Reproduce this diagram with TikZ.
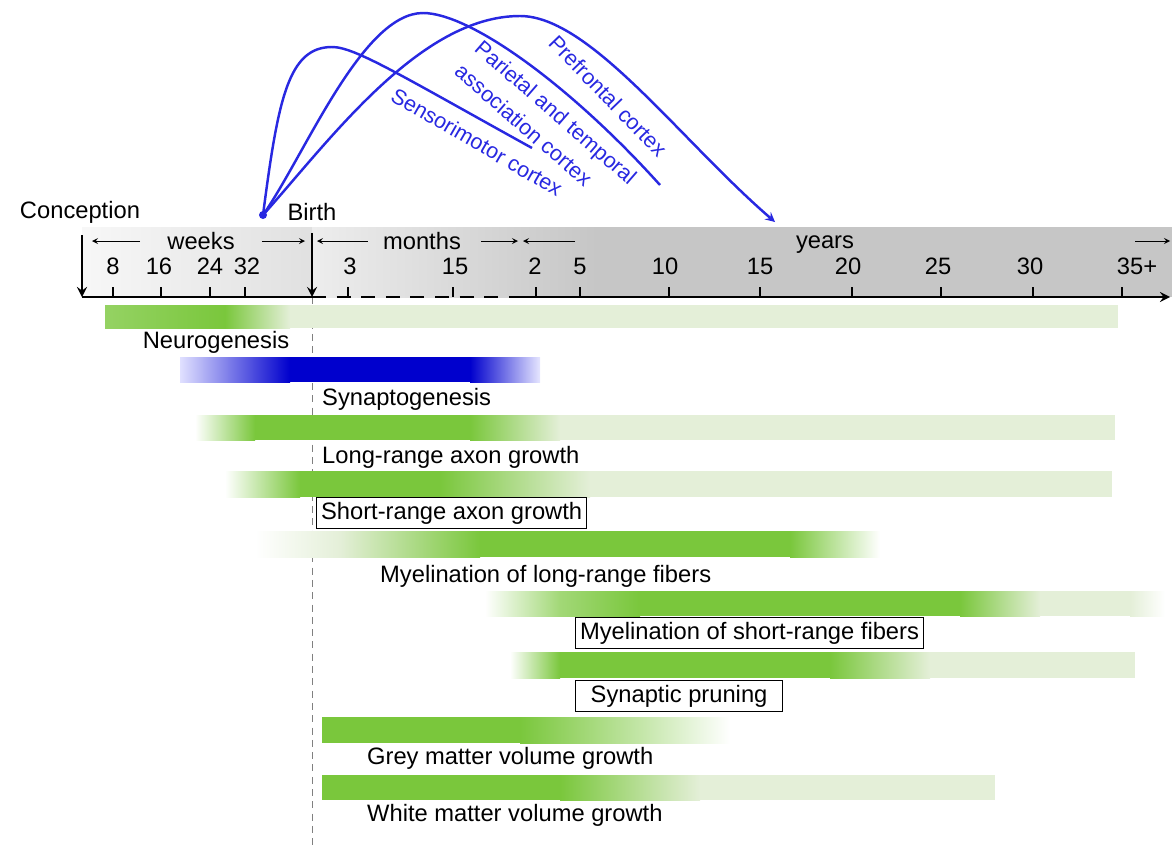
\documentclass[tikz,border=0pt]{standalone}
\usepackage{fontspec}
\setmainfont{Liberation Sans}
\usetikzlibrary{positioning}
\definecolor{leaf}{RGB}{122,199,60}
\definecolor{paleleaf}{RGB}{228,239,216}
\definecolor{deepblue}{RGB}{0,0,205}
\definecolor{cortexblue}{RGB}{40,40,225}

\begin{document}
\begin{tikzpicture}[x=0.2mm, y=-0.2mm, >=stealth, line width=0.5pt,
		every node/.style={font=\fontsize{13.5}{17}\selectfont, inner sep=1pt},
		lbl/.style={anchor=west},
		boxed/.style={draw, anchor=west, inner sep=2.5pt, line width=0.8pt},
		axis/.style={line width=1.5pt},
		curve/.style={draw=cortexblue, line width=1.4pt},
		region/.style={text=cortexblue, rotate=#1, font=\fontsize{12.3}{17.4}\selectfont}]
	\useasboundingbox (0,0) rectangle (1172,848);

	% time band
	\shade[left color=gray!6, right color=gray!24] (82,227) rectangle (312,297);
	\shade[left color=gray!14, right color=gray!45] (312,227) rectangle (600,297);
	\fill[gray!45] (600,227) rectangle (1172,297);

	\coordinate (c0) at (82,297);
	\coordinate (b0) at (312,297);
	\coordinate (m0) at (520,297);
	\coordinate (end) at (1170,297);
	\coordinate (low) at (312,848);

	\draw[dashed, gray, dash pattern=on 4pt off 3pt] (b0) -- (low);

	\node (conc) at (80,212) {Conception};
	\node (birth) at (312,212) {Birth};
	\draw[axis, ->] ([yshift=-2mm]conc.south -| c0) -- (c0);
	\draw[axis, ->] ([yshift=-2mm]birth.south -| b0) -- (b0);
	\draw[axis] (c0) -- (b0);
	\draw[axis, dash pattern=on 8pt off 6pt] (b0) -- (m0);
	\draw[axis, ->] (m0) -- (end);

	\node (weeks) at (201,241) {weeks};
	\node (months) at (422,241) {months};
	\node (years) at (825,245) {years};
	\draw[->] ([xshift=-5mm]weeks.west) -- ([xshift=2mm]c0 |- weeks.west);
	\draw[->] ([xshift=5mm]weeks.east) -- ([xshift=-1.4mm]b0 |- weeks.east);
	\draw[->] ([xshift=-2.6mm]months.west) -- ([xshift=1mm]b0 |- months.west);
	\draw[->] ([xshift=3.6mm]months.east) -- ([xshift=-0.4mm]m0 |- months.east);
	\draw[->] ([xshift=11mm]m0 |- weeks) -- ([xshift=0.6mm]m0 |- weeks);
	\draw[->] ([xshift=-7mm]end |- weeks) -- (end |- weeks);

	\foreach \x/\t in {113/8, 159/16, 210/24, 247/32, 350/3, 455/15, 535/2, 580/5,
			665/10, 760/15, 848/20, 938/25, 1030/30, 1137/35+}
		\node (n\x) at (\x,266) {\t};
	\foreach \x in {113,161,210,245,348,453,536,580,669,760,852,941,1033,1122}
		\draw[line width=1.2pt] (\x,287) -- (\x,297);

	% cortex curves
	\node[circle, fill=cortexblue, inner sep=0pt, minimum size=1.6mm] (root) at (263,215) {};
	\coordinate (sm) at (532,148);
	\coordinate (pt) at (660,185);
	\coordinate (pf) at (775,222);
	\draw[curve] (root.center) .. controls (278,100) and (288,47) .. (332,47)
		.. controls (355,47) and (400,75) .. (sm);
	\draw[curve] (root.center) .. controls (305,155) and (362,13) .. (423,13)
		.. controls (470,13) and (570,85) .. (pt);
	\draw[curve, ->] (root.center) .. controls (330,140) and (420,16) .. (520,16)
		.. controls (590,16) and (680,140) .. (pf);
	\node[region=-30] (smlab) at (477,142) {Sensorimotor cortex};
	\node[region=-41, align=left] (ptlab) at (546,124) {Parietal and temporal\\association cortex};
	\node[region=-46] (pflab) at (608,96) {Prefrontal cortex};

	% bars
	\shade[left color=leaf!80, right color=leaf] (105,305) rectangle (225,328);
	\shade[left color=leaf, right color=paleleaf] (225,305) rectangle (290,328);
	\fill[paleleaf] (290,305) rectangle (1118,328);
	\node (neuro) at (216,342) {Neurogenesis};

	\shade[left color=blue!12, right color=deepblue] (180,357) rectangle (290,382);
	\fill[deepblue] (290,357) rectangle (470,382);
	\shade[left color=deepblue, right color=blue!10] (470,357) rectangle (540,382);
	\node[lbl] (synapto) at (320,399) {Synaptogenesis};

	\shade[left color=white, right color=leaf] (195,415) rectangle (255,440);
	\fill[leaf] (255,415) rectangle (470,440);
	\shade[left color=leaf, right color=paleleaf] (470,415) rectangle (560,440);
	\fill[paleleaf] (560,415) rectangle (1115,440);
	\node[lbl] (longax) at (320,457) {Long-range axon growth};

	\shade[left color=white, right color=leaf] (225,471) rectangle (300,497);
	\fill[leaf] (300,471) rectangle (440,497);
	\shade[left color=leaf, right color=paleleaf] (440,471) rectangle (590,497);
	\fill[paleleaf] (590,471) rectangle (1112,497);
	\node[boxed] (shortax) at (316,513) {Short-range axon growth};

	\shade[left color=white, right color=paleleaf] (255,531) rectangle (340,557);
	\shade[left color=paleleaf, right color=leaf] (340,531) rectangle (480,557);
	\fill[leaf] (480,531) rectangle (790,557);
	\shade[left color=leaf, right color=white] (790,531) rectangle (880,557);
	\node[lbl] (mylong) at (378,576) {Myelination of long-range fibers};

	\shade[left color=white, right color=leaf!70] (485,591) rectangle (560,616);
	\shade[left color=leaf!70, right color=leaf] (560,591) rectangle (640,616);
	\fill[leaf] (640,591) rectangle (960,616);
	\shade[left color=leaf, right color=paleleaf] (960,591) rectangle (1040,616);
	\fill[paleleaf] (1040,591) rectangle (1130,616);
	\shade[left color=paleleaf, right color=white] (1130,591) rectangle (1165,616);
	\node[boxed] (myshort) at (575,633) {Myelination of short-range fibers};

	\shade[left color=white, right color=leaf] (510,652) rectangle (560,678);
	\fill[leaf] (560,652) rectangle (830,678);
	\shade[left color=leaf, right color=paleleaf] (830,652) rectangle (930,678);
	\fill[paleleaf] (930,652) rectangle (1135,678);
	\node[boxed, inner xsep=3mm] (prune) at (575,696) {Synaptic pruning};

	\fill[leaf] (322,717) rectangle (520,743);
	\shade[left color=leaf, right color=leaf!45] (520,717) rectangle (640,743);
	\shade[left color=leaf!45, right color=white] (640,717) rectangle (730,743);
	\node[lbl] (grey) at (365,758) {Grey matter volume growth};

	\fill[leaf] (322,775) rectangle (560,800);
	\shade[left color=leaf, right color=paleleaf] (560,775) rectangle (700,800);
	\fill[paleleaf] (700,775) rectangle (995,800);
	\node[lbl] (white) at (365,815) {White matter volume growth};
\end{tikzpicture}
\end{document}
